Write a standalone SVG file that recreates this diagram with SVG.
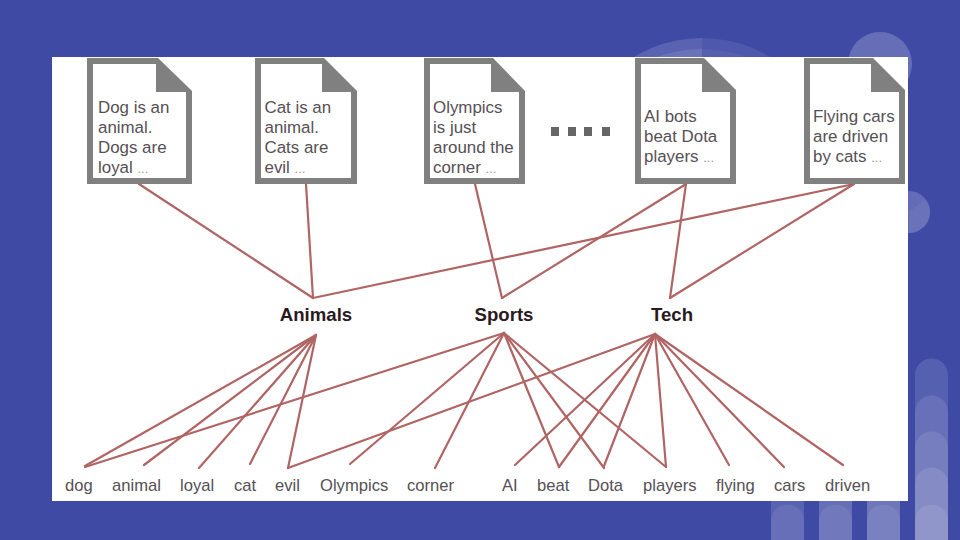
<svg xmlns="http://www.w3.org/2000/svg" width="960" height="540" viewBox="0 0 960 540">
<style>
.o{fill:#808080}
.i{fill:#fff}
.t{font-family:"Liberation Sans",Arial,sans-serif;font-size:16.9px;fill:#555055}
.w{font-size:16.6px}
.e{font-size:13px;fill:#999}
.c{font-family:"Liberation Sans",Arial,sans-serif;font-size:18.6px;font-weight:bold;fill:#2a1a1e;text-anchor:middle}
.d{fill:#fff}
#connectors line{stroke:#b06464;stroke-width:2.2;stroke-linecap:round}
</style>
<rect width="960" height="540" fill="#3f4aa5"/>
<g id="decor">
<path class="d" opacity=".14" d="M702 38A132 132 0 0 0 570 170H702Z"/>
<path class="d" opacity=".08" d="M702 38A132 132 0 0 1 834 170H702Z"/>
<path class="d" opacity=".1" d="M702 49A130 130 0 0 0 572 179H702Z"/>
<path class="d" opacity=".05" d="M702 49A130 130 0 0 1 832 179H702Z"/>
<circle class="d" cx="880" cy="64" r="32" opacity=".2"/>
<circle class="d" cx="909" cy="212" r="21" opacity=".19"/>
<path class="d" opacity=".05" d="M909 212L926 199A21 21 0 0 1 909 233Z"/>
<path class="d" opacity=".12" d="M915 540V375a16.500 16.500 0 0 1 33 0V540Z"/>
<path class="d" opacity=".1" d="M915 540V412a16.500 16.500 0 0 1 33 0V540Z"/>
<path class="d" opacity=".1" d="M915 540V448a16.500 16.500 0 0 1 33 0V540Z"/>
<path class="d" opacity=".1" d="M915 540V484a16.500 16.500 0 0 1 33 0V540Z"/>
<path class="d" opacity=".1" d="M915 540V521a16.500 16.500 0 0 1 33 0V540Z"/>
<path class="d" opacity=".14" d="M771 540V500H804V540Z"/>
<path class="d" opacity=".08" d="M771 540V521a16.500 16.500 0 0 1 33 0V540Z"/>
<path class="d" opacity=".2" d="M819 540V500H852V540Z"/>
<path class="d" opacity=".08" d="M819 540V521a16.500 16.500 0 0 1 33 0V540Z"/>
<path class="d" opacity=".25" d="M867 540V500H900V540Z"/>
<path class="d" opacity=".08" d="M867 540V521a16.500 16.500 0 0 1 33 0V540Z"/>
</g>
<rect x="52" y="57" width="856" height="444" fill="#fff"/>
<g id="connectors">
<line x1="139" y1="184" x2="313" y2="298"/>
<line x1="306" y1="184" x2="313" y2="298"/>
<line x1="475" y1="184" x2="502" y2="298"/>
<line x1="686" y1="184" x2="502" y2="298"/>
<line x1="686" y1="184" x2="670" y2="298"/>
<line x1="854" y1="184" x2="313" y2="298"/>
<line x1="854" y1="184" x2="670" y2="298"/>
<line x1="316" y1="335" x2="85" y2="466"/>
<line x1="316" y1="335" x2="144" y2="465"/>
<line x1="316" y1="335" x2="199" y2="468"/>
<line x1="316" y1="335" x2="250" y2="464"/>
<line x1="316" y1="335" x2="288" y2="468"/>
<line x1="504" y1="333" x2="85" y2="467"/>
<line x1="504" y1="333" x2="350" y2="464"/>
<line x1="504" y1="333" x2="435" y2="468"/>
<line x1="504" y1="333" x2="559" y2="467"/>
<line x1="504" y1="333" x2="604" y2="468"/>
<line x1="504" y1="333" x2="666" y2="467"/>
<line x1="655" y1="334" x2="288" y2="468"/>
<line x1="655" y1="334" x2="515" y2="465"/>
<line x1="655" y1="334" x2="559" y2="467"/>
<line x1="655" y1="334" x2="604" y2="466"/>
<line x1="655" y1="334" x2="666" y2="467"/>
<line x1="655" y1="334" x2="729" y2="465"/>
<line x1="655" y1="334" x2="784" y2="467"/>
<line x1="655" y1="334" x2="843" y2="465"/>
</g>
<g id="doc1"><path class="o" d="M87 58H158L192 91V184H87Z"/><path class="i" d="M93 64H156V92H186V178H93Z"/>
<text class="t" x="98" y="113">Dog is an</text><text class="t" x="98" y="133">animal.</text><text class="t" x="98" y="153">Dogs are</text><text class="t" x="98" y="173">loyal <tspan class="e">...</tspan></text></g>
<g id="doc2"><path class="o" d="M255 58H324L357 91V184H255Z"/><path class="i" d="M261 64H322V92H351V178H261Z"/>
<text class="t" x="264.500" y="113">Cat is an</text><text class="t" x="264.500" y="133">animal.</text><text class="t" x="264.500" y="153">Cats are</text><text class="t" x="264.500" y="173">evil <tspan class="e">...</tspan></text></g>
<g id="doc3"><path class="o" d="M424 58H493L525 91V184H424Z"/><path class="i" d="M430 64H491V92H519V178H430Z"/>
<text class="t" x="433" y="113">Olympics</text><text class="t" x="433" y="133">is just</text><text class="t" x="433" y="153">around the</text><text class="t" x="433" y="173">corner <tspan class="e">...</tspan></text></g>
<g id="dots" fill="#666"><rect x="551" y="127" width="8" height="9"/><rect x="568" y="127" width="8" height="9"/><rect x="584" y="127" width="8" height="9"/><rect x="602" y="127" width="8" height="9"/></g>
<g id="doc4"><path class="o" d="M635 58H704L736 90V184H635Z"/><path class="i" d="M641 64H702V92H730V178H641Z"/>
<text class="t" x="644" y="122">AI bots</text><text class="t" x="644" y="142">beat Dota</text><text class="t" x="644" y="162">players <tspan class="e">...</tspan></text></g>
<g id="doc5"><path class="o" d="M804 58H873L905 90V184H804Z"/><path class="i" d="M810 64H871V92H899V178H810Z"/>
<text class="t" x="813" y="122">Flying cars</text><text class="t" x="813" y="142">are driven</text><text class="t" x="813" y="162">by cats <tspan class="e">...</tspan></text></g>
<g id="topic-animals"><text class="c" x="316" y="321">Animals</text></g>
<g id="topic-sports"><text class="c" x="504" y="321">Sports</text></g>
<g id="topic-tech"><text class="c" x="672" y="321">Tech</text></g>
<g id="words">
<text class="t w" x="65" y="491">dog</text>
<text class="t w" x="112" y="491">animal</text>
<text class="t w" x="180" y="491">loyal</text>
<text class="t w" x="234" y="491">cat</text>
<text class="t w" x="275" y="491">evil</text>
<text class="t w" x="320" y="491">Olympics</text>
<text class="t w" x="407" y="491">corner</text>
<text class="t w" x="502" y="491">AI</text>
<text class="t w" x="537" y="491">beat</text>
<text class="t w" x="588" y="491">Dota</text>
<text class="t w" x="643" y="491">players</text>
<text class="t w" x="716" y="491">flying</text>
<text class="t w" x="774" y="491">cars</text>
<text class="t w" x="825" y="491">driven</text>
</g>
</svg>
